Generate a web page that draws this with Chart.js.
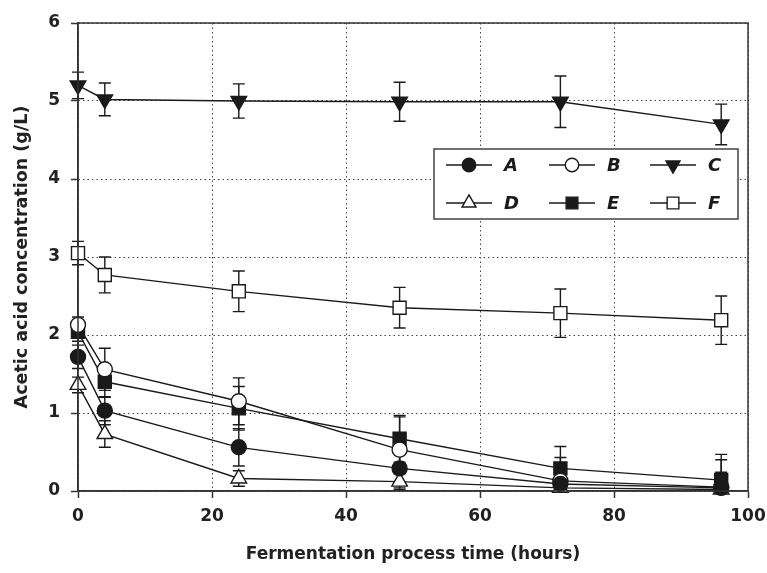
<!DOCTYPE html>
<html>
<head>
<meta charset="utf-8">
<script src="https://cdn.jsdelivr.net/npm/chart.js@4"></script>
<style>
  html, body { margin: 0; padding: 0; background: #fff; }
  #wrap { width: 767px; height: 573px; }
</style>
</head>
<body>
<div id="wrap"><canvas id="myChart" width="767" height="573"></canvas></div>
<script>
// time points (hours)
var times = [0, 4, 24, 48, 72, 96];

// acetic acid concentration (g/L) per treatment, with error bar half-widths
var valA = [1.72, 1.03, 0.56, 0.29, 0.09, 0.04];
var errA = [0.15, 0.18, 0.24, 0.25, 0.20, 0.20];
var valB = [2.13, 1.56, 1.15, 0.53, 0.13, 0.05];
var errB = [0.10, 0.27, 0.30, 0.42, 0.30, 0.35];
var valC = [5.20, 5.02, 5.00, 4.99, 4.99, 4.70];
var errC = [0.17, 0.21, 0.22, 0.25, 0.33, 0.26];
var valD = [1.36, 0.73, 0.16, 0.12, 0.04, 0.02];
var errD = [0.10, 0.17, 0.10, 0.10, 0.05, 0.05];
var valE = [2.04, 1.40, 1.06, 0.67, 0.29, 0.14];
var errE = [0.12, 0.20, 0.28, 0.30, 0.28, 0.33];
var valF = [3.05, 2.77, 2.56, 2.35, 2.28, 2.19];
var errF = [0.15, 0.23, 0.26, 0.26, 0.31, 0.31];

var xTicks = [0, 20, 40, 60, 80, 100];
var yTicks = [0, 1, 2, 3, 4, 5, 6];

var ink = '#1a1a1a';
var fontFam = '"DejaVu Sans", "Liberation Sans", Arial, sans-serif';

function pts(vals) {
    return times.map(function (t, i) { return { x: t, y: vals[i] }; });
}

function series(label, vals, errs, style, filled, radius, rotation) {
    return {
        label: label,
        data: pts(vals),
        errors: errs,
        borderColor: ink,
        borderWidth: 1.4,
        backgroundColor: filled ? ink : '#fff',
        pointStyle: style,
        pointRadius: radius,
        pointRotation: rotation || 0,
        pointBorderWidth: 1.4,
        pointBorderColor: ink,
        pointBackgroundColor: filled ? ink : '#fff',
        tension: 0,
        fill: false,
        clip: false
    };
}

// error bars drawn under the markers
var errorBars = {
    id: 'errorBars',
    beforeDatasetsDraw: function (chart) {
        var ctx = chart.ctx, xs = chart.scales.x, ys = chart.scales.y, ca = chart.chartArea;
        ctx.save();
        ctx.beginPath();
        ctx.rect(ca.left - 10, ca.top - 2, ca.right - ca.left + 20, ca.bottom - ca.top + 4);
        ctx.clip();
        ctx.strokeStyle = ink;
        ctx.lineWidth = 1.4;
        chart.data.datasets.forEach(function (ds) {
            ds.data.forEach(function (p, i) {
                var e = ds.errors[i];
                var x = xs.getPixelForValue(p.x);
                var y1 = ys.getPixelForValue(p.y + e);
                var y2 = ys.getPixelForValue(Math.max(0, p.y - e));
                ctx.beginPath();
                ctx.moveTo(x, y1); ctx.lineTo(x, y2);
                ctx.moveTo(x - 6, y1); ctx.lineTo(x + 6, y1);
                ctx.moveTo(x - 6, y2); ctx.lineTo(x + 6, y2);
                ctx.stroke();
            });
        });
        ctx.restore();
    }
};

// frame around the plot and the inset legend
var frameLegend = {
    id: 'frameLegend',
    afterDraw: function (chart) {
        var ctx = chart.ctx, ca = chart.chartArea;
        ctx.save();
        ctx.strokeStyle = '#333';
        ctx.lineWidth = 1.5;
        ctx.strokeRect(ca.left, ca.top, ca.right - ca.left, ca.bottom - ca.top);

        // legend box
        var bx = ca.right - 314, by = ca.top + 126, bw = 304, bh = 70;
        ctx.fillStyle = '#fff';
        ctx.fillRect(bx, by, bw, bh);
        ctx.strokeStyle = '#444';
        ctx.lineWidth = 1.5;
        ctx.strokeRect(bx, by, bw, bh);

        var cols = [bx + 35, bx + 138, bx + 239];
        var rows = [by + 16, by + 54];
        ctx.font = 'italic bold 18px ' + fontFam;
        ctx.textBaseline = 'middle';
        chart.data.datasets.forEach(function (ds, i) {
            var cx = cols[i % 3], cy = rows[Math.floor(i / 3)];
            ctx.strokeStyle = ink;
            ctx.lineWidth = 1.4;
            ctx.beginPath();
            ctx.moveTo(cx - 23, cy); ctx.lineTo(cx + 23, cy);
            ctx.stroke();
            ctx.fillStyle = ds.pointBackgroundColor;
            Chart.helpers.drawPoint(ctx, {
                pointStyle: ds.pointStyle,
                rotation: ds.pointRotation,
                radius: ds.pointRadius * 0.9,
                borderWidth: 1.4
            }, cx, cy);
            ctx.fillStyle = ink;
            ctx.textAlign = 'left';
            ctx.fillText(ds.label, cx + 35, cy + 1);
        });
        ctx.restore();
    }
};

var tickFont = { family: fontFam, size: 17, weight: 'bold' };

var ctx = document.getElementById('myChart').getContext('2d');
var myChart = new Chart(ctx, {
    type: 'line',
    data: {
        datasets: [
            series('A', valA, errA, 'circle', true, 7.5),
            series('B', valB, errB, 'circle', false, 7.5),
            series('C', valC, errC, 'triangle', true, 9, 180),
            series('D', valD, errD, 'triangle', false, 9),
            series('E', valE, errE, 'rect', true, 9.2),
            series('F', valF, errF, 'rect', false, 9.2)
        ]
    },
    options: {
        responsive: false,
        animation: false,
        layout: { padding: { top: 23, right: 19, left: 0, bottom: 0 } },
        plugins: {
            legend: { display: false },
            tooltip: { enabled: false }
        },
        scales: {
            x: {
                type: 'linear',
                min: 0,
                max: 100,
                afterBuildTicks: function (scale) {
                    scale.ticks = xTicks.map(function (v) { return { value: v }; });
                },
                afterFit: function (scale) {
                    scale.height = 82;
                    scale.paddingLeft = 0;
                    scale.paddingRight = 0;
                },
                ticks: { color: '#222', font: tickFont, padding: 8, maxRotation: 0 },
                grid: {
                    color: '#444',
                    lineWidth: 1,
                    tickLength: 7,
                    tickColor: '#333',
                    tickWidth: 1.5
                },
                border: { display: true, color: '#333', width: 1.5, dash: [1.5, 3] },
                title: {
                    display: true,
                    text: 'Fermentation process time (hours)',
                    color: '#222',
                    font: { family: fontFam, size: 17, weight: 'bold' },
                    padding: { top: 0, bottom: 8 }
                }
            },
            y: {
                type: 'linear',
                min: 0,
                max: 6,
                afterBuildTicks: function (scale) {
                    scale.ticks = yTicks.map(function (v) { return { value: v }; });
                },
                afterFit: function (scale) {
                    scale.width = 78;
                    scale.paddingTop = 0;
                    scale.paddingBottom = 0;
                },
                ticks: { color: '#222', font: tickFont, padding: 11 },
                grid: {
                    color: '#444',
                    lineWidth: 1,
                    tickLength: 7,
                    tickColor: '#333',
                    tickWidth: 1.5
                },
                border: { display: true, color: '#333', width: 1.5, dash: [1.5, 3] },
                title: {
                    display: true,
                    text: 'Acetic acid concentration (g/L)',
                    color: '#222',
                    font: { family: fontFam, size: 17.5, weight: 'bold' },
                    padding: { top: 12, bottom: 0 }
                }
            }
        }
    },
    plugins: [errorBars, frameLegend]
});
</script>
</body>
</html>
